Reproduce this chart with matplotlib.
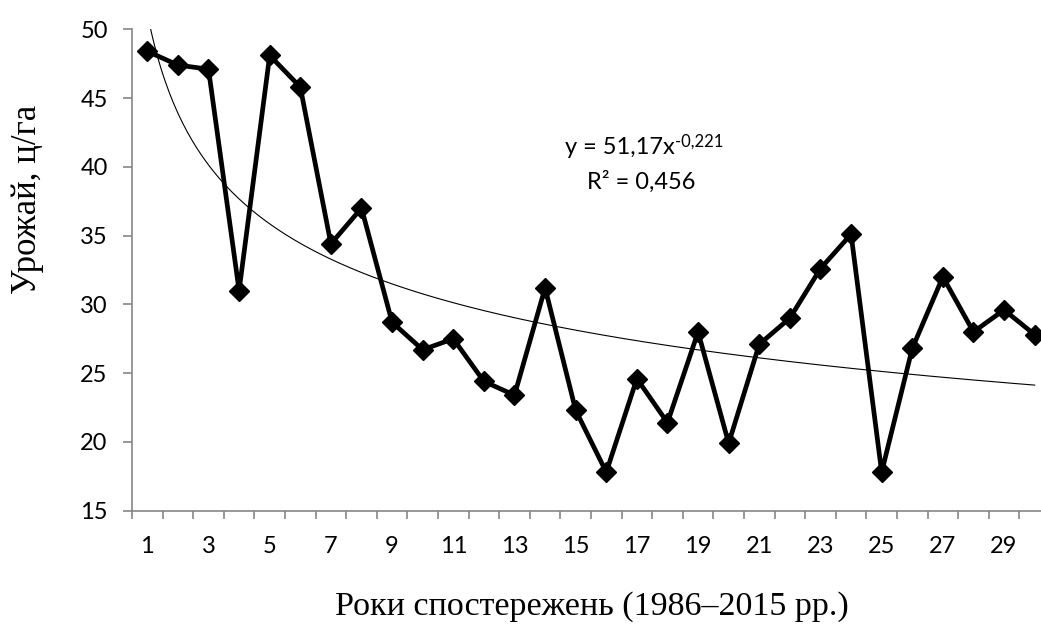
import numpy as np
import matplotlib.pyplot as plt

# дані врожайності (1986-2015)
years = list(range(1, 31))
yield_c = [48.4, 47.4, 47.1, 31.0, 48.1, 45.8, 34.4, 37.0, 28.7, 26.7,
           27.5, 24.4, 23.4, 31.2, 22.3, 17.8, 24.6, 21.4, 28.0, 19.9,
           27.1, 29.0, 32.6, 35.1, 17.8, 26.8, 32.0, 28.0, 29.6, 27.8]
y_ticks = [15, 20, 25, 30, 35, 40, 45, 50]
x_labels = [str(i) for i in range(1, 31, 2)]

# степенева лінія тренду (з підпису на графіку)
trend_a = 51.17
trend_b = -0.221

fig = plt.figure(figsize=(10.41, 6.26), dpi=100)
ax = fig.add_axes([0.1268, 0.1842, 0.8818, 0.769])

x = np.array(years)
ax.plot(x, yield_c, color='black', lw=3.4, marker='D', ms=10.5,
        mec='black', mew=1, zorder=3)

xt = np.linspace(1, 30, 400)
ax.plot(xt, trend_a * xt ** trend_b, color='black', lw=0.8, zorder=2)

ax.set_xlim(0.5, 30.5)
ax.set_ylim(15, 50)

gray = '#868686'
for s in ['top', 'right']:
    ax.spines[s].set_visible(False)
for s in ['left', 'bottom']:
    ax.spines[s].set_color(gray)
    ax.spines[s].set_linewidth(1.2)

ax.set_yticks(y_ticks)
ax.set_yticklabels([str(v) for v in y_ticks], family='Lato', fontsize=17)
ax.tick_params(axis='y', colors=gray, length=6.5, width=1.2, labelcolor='black', pad=11)

# мітки між категоріями, підписи по центру
ax.set_xticks(np.arange(0.5, 31, 1))
ax.set_xticklabels([])
ax.tick_params(axis='x', which='major', colors=gray, length=5.5, width=1.2)
ax.set_xticks(np.arange(1, 31, 2), minor=True)
ax.set_xticklabels(x_labels, minor=True, family='Lato', fontsize=17)
ax.tick_params(axis='x', which='minor', length=0, pad=18, labelcolor='black')

# рівняння тренду
t1 = fig.text(565 / 1041, 1 - 148 / 626, 'y = 51,17x', ha='left', va='center',
              family='Lato', fontsize=17)
ax.annotate('-0,221', xy=(1, 0.8), xycoords=t1, xytext=(0.5, 0),
            textcoords='offset points', ha='left', va='center',
            family='Lato', fontsize=12)
fig.text(641 / 1041, 1 - 182 / 626, 'R² = 0,456', ha='center', va='center',
         family='Lato', fontsize=17)

fig.text(28 / 1041, 1 - 199 / 626, 'Урожай, ц/га', rotation=90,
         ha='center', va='center', family='Liberation Serif', fontsize=25)
fig.text(592 / 1041, 1 - 607 / 626, 'Роки спостережень (1986–2015 рр.)',
         ha='center', va='center', family='Liberation Serif', fontsize=24.5)

fig.savefig('out.png', dpi=100)
